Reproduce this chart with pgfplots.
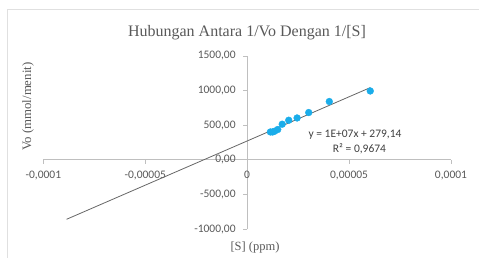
\documentclass[border=0pt]{standalone}
\usepackage{pgfplots}
\pgfplotsset{compat=1.18}
\usepackage{fontspec}
\setmainfont{Liberation Serif}
\newfontfamily\calfont{Carlito}
\definecolor{txt}{HTML}{595959}
\definecolor{axl}{HTML}{BFBFBF}
\definecolor{ptc}{HTML}{1AADEA}
\definecolor{eqc}{HTML}{404040}
\begin{document}
\begin{tikzpicture}[x=1pt,y=1pt]
\useasboundingbox (0,0) rectangle (479,-258);
\draw[color=black!12, line width=1.2pt] (7.5,-258) -- (7.5,-9.5) -- (479,-9.5);
\begin{axis}[
 at={(43.3pt,-229pt)}, anchor=south west,
 scale only axis, width=407.7pt, height=173.3pt,
 xmin=-0.0001, xmax=0.0001, ymin=-1000, ymax=1500,
 axis lines=middle, axis line style={axl, -},
 xtick={-0.0001,-0.00005,0.00005,0.0001},
 xticklabels={{-0,0001},{-0,00005},{0,00005},{0,0001}},
 ytick={-1000,-500,500,1000,1500},
 yticklabels={{-1000,00},{-500,00},{500,00},{1000,00},{1500,00}},
 extra x ticks={0}, extra x tick labels={0},
 extra y ticks={0}, extra y tick labels={0{,}00},
 extra tick style={tick style={axl, thin}},
 tick align=outside, major tick length=4pt, tick style={axl, thin},
 ticklabel style={font=\calfont\fontsize{11.5}{12}\selectfont, text=txt},
 xticklabel style={yshift=-4pt},
 yticklabel style={xshift=-4pt},
 scaled ticks=false,
 clip=false,
]
\addplot[no marks, color=black!60, line width=0.8pt] coordinates {(-0.0000886,-860) (0.0000604,1040)};
\addplot[only marks, mark=*, mark size=3.4pt, color=ptc] table {
x y
0.0000114 400
0.0000125 400
0.0000135 411
0.0000150 435
0.0000172 512
0.0000204 569
0.0000245 602
0.0000302 680
0.0000403 839
0.0000604 991
};
\end{axis}
\node[font=\fontsize{16}{18}\selectfont, text=txt] at (247,-32.5) {Hubungan Antara 1/Vo Dengan 1/[S]};
\node[rotate=90, font=\fontsize{12.8}{14}\selectfont, text=txt] at (28,-106.7) {Vo (mmol/menit)};
\node[font=\fontsize{12.5}{14}\selectfont, text=txt] at (255,-247.5) {[S] (ppm)};
\node[font=\calfont\fontsize{11.5}{12}\selectfont, text=eqc] at (355,-135) {y = 1E+07x + 279,14};
\node[font=\calfont\fontsize{11.5}{12}\selectfont, text=eqc] at (359.5,-149) {R² = 0,9674};
\end{tikzpicture}
\end{document}
